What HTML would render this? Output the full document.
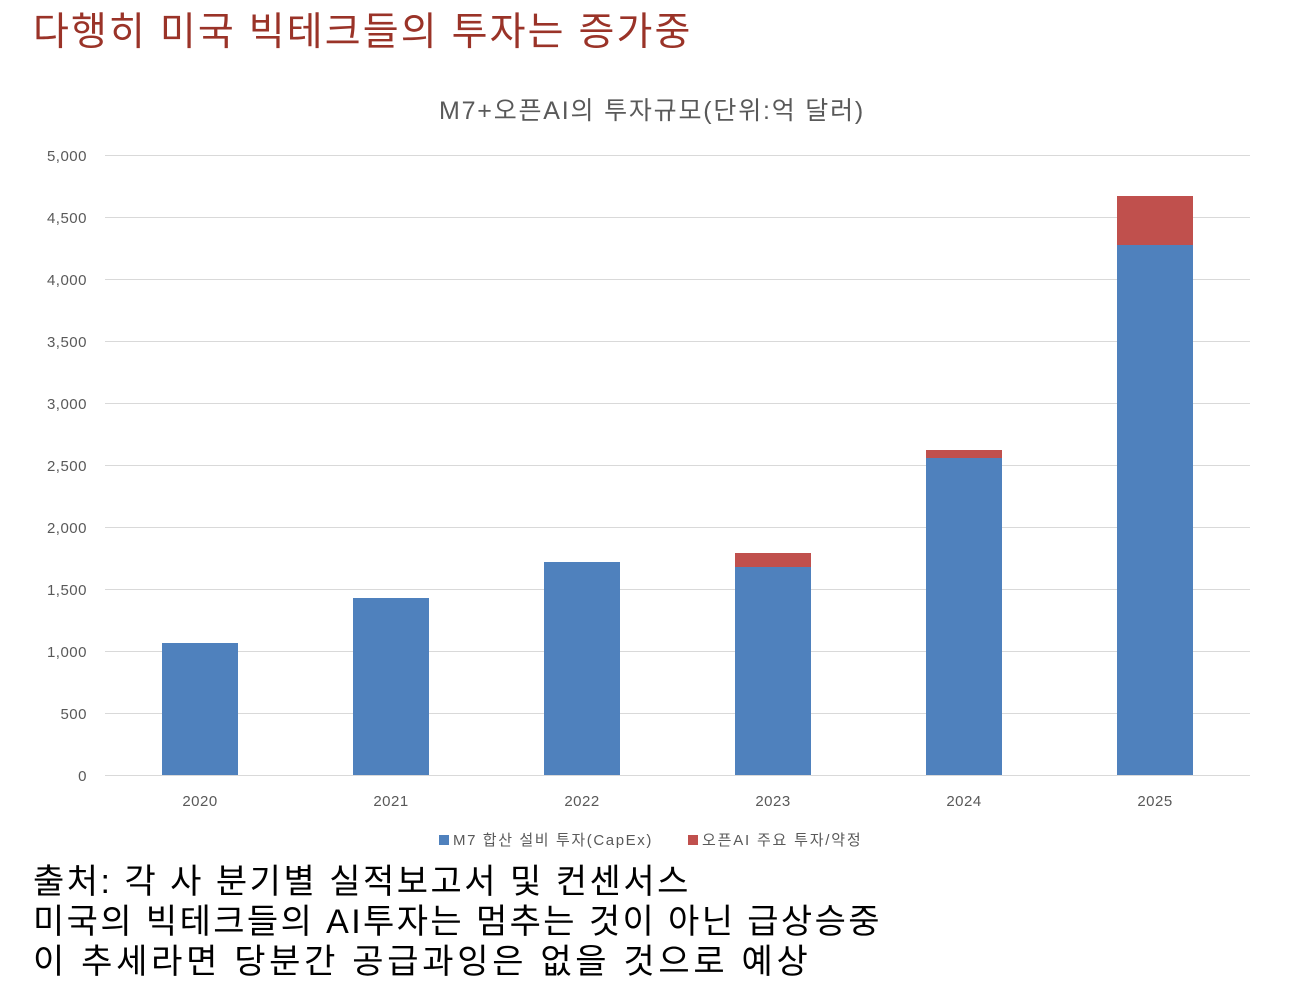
<!DOCTYPE html>
<html><head><meta charset="utf-8"><style>
body{margin:0;width:1308px;height:991px;background:#fff;overflow:hidden;position:relative;font-family:"Liberation Sans","Noto Sans CJK KR",sans-serif}
.t{position:absolute;white-space:nowrap}
.b{position:absolute;left:33px;font-size:34px;line-height:40px;color:#000;white-space:nowrap}
</style></head><body>
<div class="t" style="left:33px;top:1px;font-size:39px;color:#9a3328;letter-spacing:2.1px">다행히 미국 빅테크들의 투자는 증가중</div>
<svg width="1308" height="860" style="position:absolute;left:0;top:0" font-family="Liberation Sans, Noto Sans CJK KR, sans-serif">
<text x="652" y="119" font-size="25" fill="#595959" text-anchor="middle" letter-spacing="1.8">M7+오픈AI의 투자규모(단위:억 달러)</text>
<g stroke="#d9d9d9" stroke-width="1">
<line x1="105" x2="1250" y1="155.5" y2="155.5"/><line x1="105" x2="1250" y1="217.5" y2="217.5"/>
<line x1="105" x2="1250" y1="279.5" y2="279.5"/><line x1="105" x2="1250" y1="341.5" y2="341.5"/>
<line x1="105" x2="1250" y1="403.5" y2="403.5"/><line x1="105" x2="1250" y1="465.5" y2="465.5"/>
<line x1="105" x2="1250" y1="527.5" y2="527.5"/><line x1="105" x2="1250" y1="589.5" y2="589.5"/>
<line x1="105" x2="1250" y1="651.5" y2="651.5"/><line x1="105" x2="1250" y1="713.5" y2="713.5"/>
<line x1="105" x2="1250" y1="775.5" y2="775.5"/>
</g>
<g font-size="15" fill="#595959" text-anchor="end" letter-spacing="0.5">
<text x="87" y="161">5,000</text><text x="87" y="223">4,500</text><text x="87" y="285">4,000</text>
<text x="87" y="347">3,500</text><text x="87" y="409">3,000</text><text x="87" y="471">2,500</text>
<text x="87" y="533">2,000</text><text x="87" y="595">1,500</text><text x="87" y="657">1,000</text>
<text x="87" y="719">500</text><text x="87" y="781">0</text>
</g>
<g fill="#4f81bd">
<rect x="162" y="643" width="76" height="132"/><rect x="353" y="598" width="76" height="177"/>
<rect x="544" y="562" width="76" height="213"/><rect x="735" y="567" width="76" height="208"/>
<rect x="926" y="458" width="76" height="317"/><rect x="1117" y="245" width="76" height="530"/>
</g>
<g fill="#c0504d">
<rect x="735" y="553" width="76" height="14"/><rect x="926" y="450" width="76" height="8"/>
<rect x="1117" y="196" width="76" height="49"/>
</g>
<g font-size="15" fill="#595959" text-anchor="middle" letter-spacing="0.5">
<text x="200" y="806">2020</text><text x="391" y="806">2021</text><text x="582" y="806">2022</text>
<text x="773" y="806">2023</text><text x="964" y="806">2024</text><text x="1155" y="806">2025</text>
</g>
<rect x="439" y="835" width="10" height="10" fill="#4f81bd"/>
<text x="453" y="845" font-size="15" fill="#595959" letter-spacing="1.6">M7 합산 설비 투자(CapEx)</text>
<rect x="688" y="835" width="10" height="10" fill="#c0504d"/>
<text x="702" y="845" font-size="15" fill="#595959" letter-spacing="1.8">오픈AI 주요 투자/약정</text>
</svg>
<div class="b" style="top:862px;letter-spacing:2.5px">출처: 각 사 분기별 실적보고서 및 컨센서스</div>
<div class="b" style="top:902px;letter-spacing:2.4px">미국의 빅테크들의 AI투자는 멈추는 것이 아닌 급상승중</div>
<div class="b" style="top:942px;letter-spacing:3.7px">이 추세라면 당분간 공급과잉은 없을 것으로 예상</div>
</body></html>
